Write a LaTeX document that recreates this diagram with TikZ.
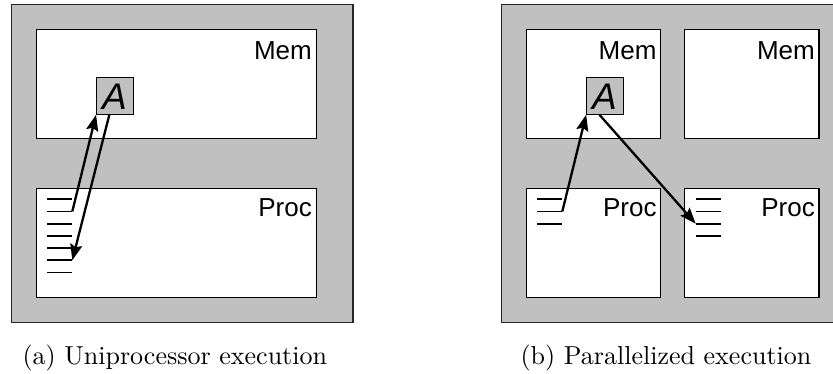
\documentclass[tikz,border=0pt]{standalone}
\usepackage{fontspec}
\setsansfont{Liberation Sans}
\usetikzlibrary{arrows.meta,calc}
\definecolor{panelgray}{RGB}{192,192,192}
\tikzset{
  panel/.style={draw=black!85, fill=panelgray, line width=1.3pt, anchor=north west, inner sep=0pt, minimum width=341.3pt, minimum height=317.7pt},
  unitbox/.style={draw=black, fill=white, line width=1.2pt, anchor=north west, inner sep=0pt, minimum height=109pt},
  abox/.style={draw=black, fill=panelgray, line width=1.1pt, inner sep=0pt, minimum width=36.5pt, minimum height=37pt},
  unitlabel/.style={anchor=base east, inner sep=0pt, font=\sffamily\fontsize{26}{30}\selectfont},
  alabel/.style={anchor=base, inner sep=0pt, font=\sffamily\itshape\fontsize{37}{40}\selectfont},
  caption/.style={anchor=base west, inner sep=0pt, scale=2.6, font=\rmfamily\fontsize{10}{12}\selectfont},
  reg/.style={line width=1.9pt, black},
  flow/.style={line width=2.3pt, black, -{Stealth[length=16pt,width=12pt,inset=2.5pt]}}
}
\begin{document}
\begin{tikzpicture}[x=1pt,y=-1pt]
\clip (0,0) rectangle (833,374);
% ---------- (a) ----------
\node[panel] (pa) at (11,4) {};
\node[unitbox, minimum width=280pt] (memA) at (35.7,29) {};
\node[unitbox, minimum width=280pt, minimum height=108.7pt] (procA) at (35.7,188) {};
\node[unitlabel] (memAt) at (312,59.3) {Mem};
\node[unitlabel] (procAt) at (312,216.7) {Proc};
\node[abox] (Aa) at (114.85,95.7) {};
\node[alabel] (Aat) at (115,110) {A};
\foreach \i in {0,...,6}{
  \coordinate (la\i s) at (47,199.3+12.2*\i);
  \coordinate (la\i e) at (72.3,199.3+12.2*\i);
  \draw[reg] (la\i s) -- (la\i e);
}
\coordinate (Aaout) at ($(Aa.south west)+(13.3,0)$);
\draw[flow] (la1e) -- (Aa.south west);
\draw[flow] (Aaout) -- (la5e);
\node[caption] (capA) at (22,364.7) {(a) Uniprocessor execution};
% ---------- (b) ----------
\node[panel, minimum width=370pt] (pb) at (501,4) {};
\node[unitbox, minimum width=134.3pt] (memB1) at (525.7,29) {};
\node[unitbox, minimum width=134.3pt] (memB2) at (684,29) {};
\node[unitbox, minimum width=134.3pt, minimum height=108.7pt] (procB1) at (525.7,188) {};
\node[unitbox, minimum width=134.3pt, minimum height=108.7pt] (procB2) at (684,188) {};
\node[unitlabel] (memB1t) at (656.7,59.3) {Mem};
\node[unitlabel] (memB2t) at (815,59.3) {Mem};
\node[unitlabel] (procB1t) at (656.7,216.7) {Proc};
\node[unitlabel] (procB2t) at (815,216.7) {Proc};
\node[abox] (Ab) at (604.95,95.7) {};
\node[alabel] (Abt) at (605.1,110) {A};
\foreach \i in {0,...,2}{
  \coordinate (lb\i s) at (537.3,199.3+12.2*\i);
  \coordinate (lb\i e) at (562.3,199.3+12.2*\i);
  \draw[reg] (lb\i s) -- (lb\i e);
}
\foreach \i in {0,...,3}{
  \coordinate (lc\i s) at (695.7,199.3+12.2*\i);
  \coordinate (lc\i e) at (721,199.3+12.2*\i);
  \draw[reg] (lc\i s) -- (lc\i e);
}
\coordinate (About) at ($(Ab.south west)+(13.3,0)$);
\draw[flow] (lb1e) -- (Ab.south west);
\draw[flow] (About) -- (lc2s);
\node[caption] (capB) at (520,364.7) {(b) Parallelized execution};
\end{tikzpicture}
\end{document}
